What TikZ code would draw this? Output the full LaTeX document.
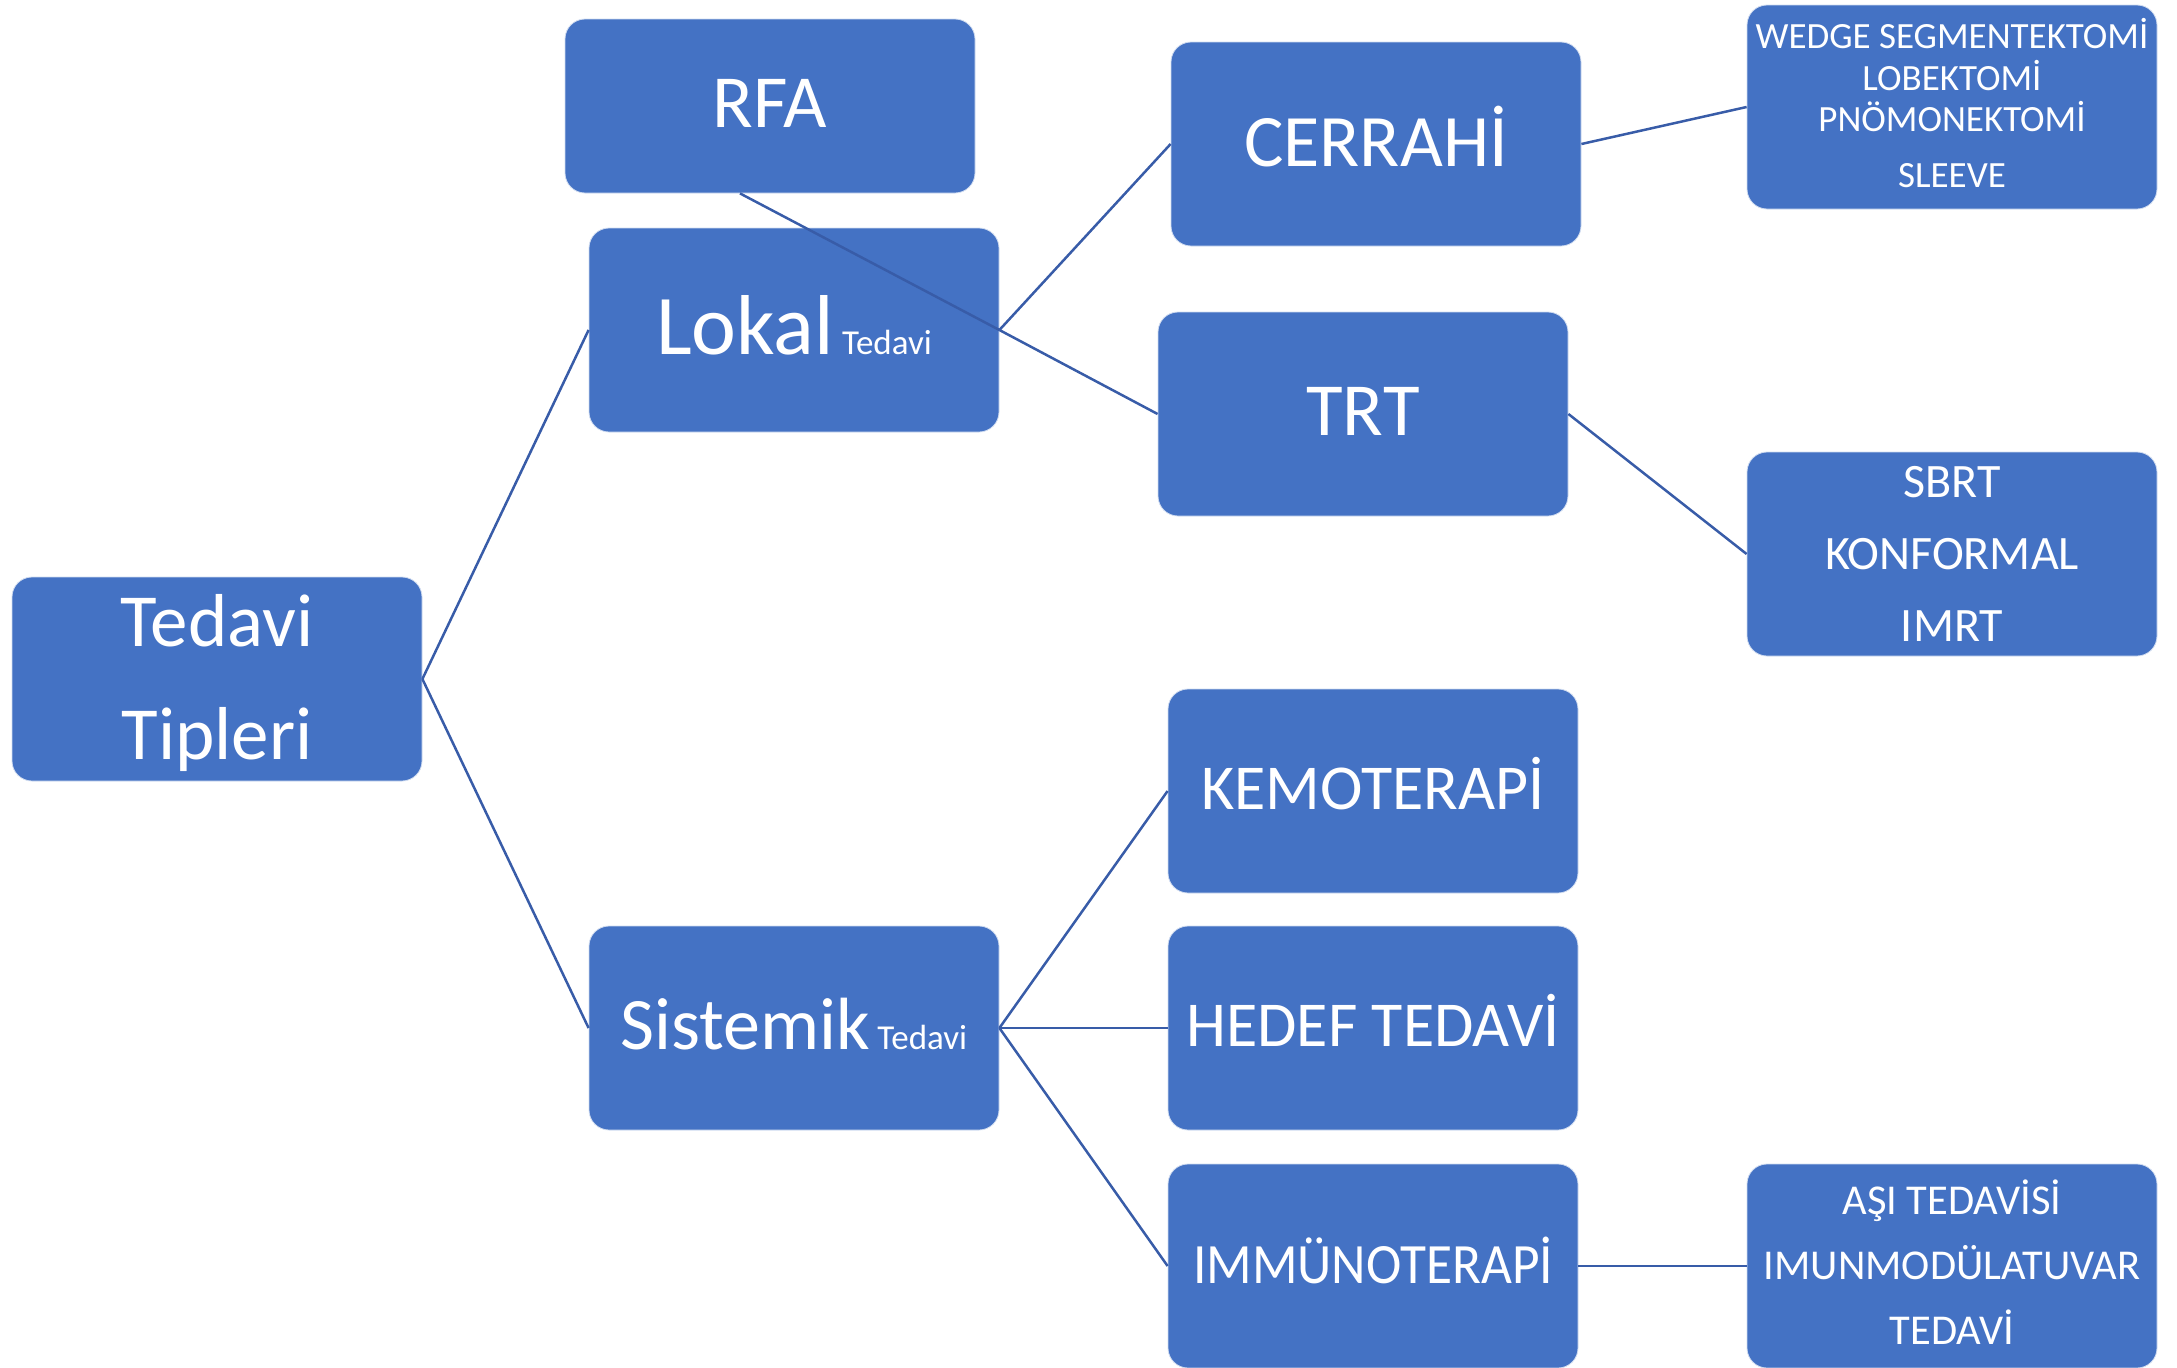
\documentclass[tikz,border=0pt]{standalone}
\usepackage{graphicx}
\usepackage{fontspec}
\setmainfont{Carlito}
\definecolor{boxblue}{RGB}{68,114,196}
\definecolor{linkblue}{RGB}{56,92,168}
\newcommand{\smalltag}[1]{{\fontsize{35}{42}\selectfont #1}}
\newcommand{\lastgap}{\rule[-8pt]{0pt}{8pt}}
\begin{document}
\begin{tikzpicture}[x=1pt,y=-1pt,
  box/.style={fill=boxblue, draw=white!75!boxblue, line width=0.8pt,
    rounded corners=20pt, minimum width=410pt, minimum height=204pt,
    inner sep=0pt, text=white, align=center},
  link/.style={draw=linkblue, line width=2.5pt},
  oneline/.style={text height=#1, text depth=0pt},
  big/.style={font=\fontsize{75}{90}\selectfont},
  mid/.style={font=\fontsize{64}{77}\selectfont}]
\useasboundingbox (0,0) rectangle (2177,1368);

% root and the two main branches
\node[box, font=\fontsize{75}{113}\selectfont] (tipler) at (217,679)
  {\rule{0pt}{60pt}Tedavi\\Tipleri};
\node[box, minimum height=174pt, big, oneline=42pt] (rfa) at (770,106) {RFA};
\node[box, oneline=48pt] (lokal) at (794,330)
  {{\fontsize{85}{102}\selectfont Lokal}\hspace{8pt}\smalltag{Tedavi}};
\node[box, oneline=43pt] (sistemik) at (794,1028)
  {{\fontsize{74}{89}\selectfont Sistemik}\hspace{7pt}\smalltag{Tedavi}};

% treatment groups
\node[box, font=\fontsize{74}{89}\selectfont, oneline=45pt] (cerrahi) at (1376,144) {CERRAHİ};
\node[box, big, oneline=43pt] (trt) at (1363,414) {TRT};
\node[box, mid, oneline=36pt] (kemo) at (1373,791) {KEMOTERAPİ};
\node[box, mid, oneline=37pt] (hedef) at (1373,1028) {HEDEF TEDAVİ};
\node[box, font=\fontsize{57}{68}\selectfont, oneline=34pt] (immuno) at (1373,1266)
  {\scalebox{0.935}[1]{IMMÜNOTERAPİ}};

% detail lists
\node[box, font=\fontsize{37}{41.5}\selectfont] (cerrahilist) at (1952,107)
  {WEDGE SEGMENTEKTOMİ\\LOBEKTOMİ\\PNÖMONEKTOMİ\\[14pt]SLEEVE\lastgap};
\node[box, font=\fontsize{48}{72}\selectfont] (trtlist) at (1952,554)
  {SBRT\\KONFORMAL\\IMRT};
\node[box, font=\fontsize{42.5}{65}\selectfont] (immunolist) at (1952,1266)
  {AŞI TEDAVİSİ\\IMUNMODÜLATUVAR\\TEDAVİ\lastgap};

% connectors
\draw[link] (tipler.east) -- (lokal.west);
\draw[link] (tipler.east) -- (sistemik.west);
\draw[link] (lokal.east) -- (cerrahi.west);
\draw[link] (lokal.east) -- (trt.west);
\coordinate (rfafoot) at ([xshift=-30pt]rfa.south);
\draw[link] (rfafoot) -- (lokal.east);
\draw[link] (cerrahi.east) -- (cerrahilist.west);
\draw[link] (trt.east) -- (trtlist.west);
\draw[link] (sistemik.east) -- (kemo.west);
\draw[link] (sistemik.east) -- (hedef.west);
\draw[link] (sistemik.east) -- (immuno.west);
\draw[link] (immuno.east) -- (immunolist.west);
\end{tikzpicture}
\end{document}
